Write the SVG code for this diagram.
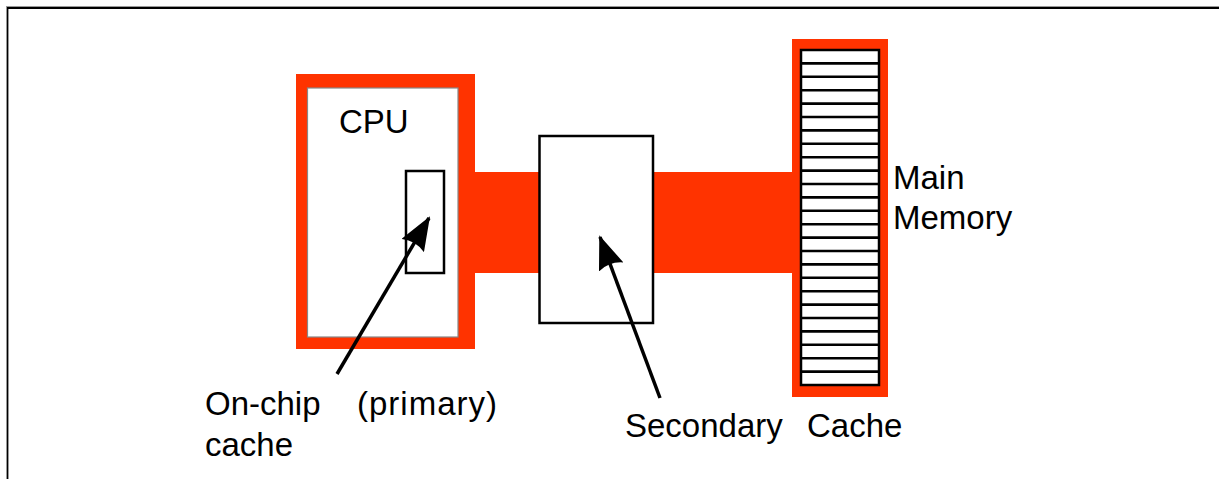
<svg xmlns="http://www.w3.org/2000/svg" width="1219" height="479" viewBox="0 0 1219 479">
<defs>
<style>
.red{fill:#ff3300}
.box{fill:#fff;stroke:#000;stroke-width:2.5}
.lbl{font-family:"Liberation Sans",Arial,sans-serif;font-size:33px;fill:#000}
.arr{stroke:#000;stroke-width:3.5;fill:none;marker-end:url(#ah)}
.row line{stroke:#000;stroke-width:2.6}
</style>
<marker id="ah" markerUnits="userSpaceOnUse" markerWidth="34" markerHeight="26" viewBox="0 0 34 26" refX="32" refY="13" orient="auto">
<path d="M0,0 L34,13 L0,26 Q6,13 0,0 Z" fill="#000"/>
</marker>
</defs>
<rect width="1219" height="479" fill="#fff"/>
<path d="M1219,8 H7.5 V479" fill="none" stroke="#000" stroke-width="1.8"/>
<path d="M1219,6.5 H6" fill="none" stroke="#999" stroke-width="1"/>

<g id="buses">
<rect class="red" x="470" y="172" width="75" height="101"/>
<rect class="red" x="650" y="172" width="146" height="101"/>
</g>

<g id="cpu">
<rect class="red" x="296" y="74" width="179" height="275"/>
<rect x="307.5" y="88" width="150.5" height="249" fill="#fff" stroke="#888" stroke-width="1.2"/>
<text class="lbl" x="339" y="133" font-size="30">CPU</text>
</g>

<g id="onchip">
<rect class="box" x="406" y="171" width="38" height="102" stroke-width="2.2"/>
</g>

<g id="secondary">
<rect class="box" x="539.5" y="136" width="113.5" height="187"/>
</g>

<g id="memory">
<rect class="red" x="792" y="39" width="96" height="358"/>
<rect class="box" x="801" y="50" width="78" height="335" stroke-width="3"/>
<g class="row">
<line x1="801" x2="879" y1="63.4" y2="63.4"/>
<line x1="801" x2="879" y1="76.8" y2="76.8"/>
<line x1="801" x2="879" y1="90.2" y2="90.2"/>
<line x1="801" x2="879" y1="103.6" y2="103.6"/>
<line x1="801" x2="879" y1="117" y2="117"/>
<line x1="801" x2="879" y1="130.4" y2="130.4"/>
<line x1="801" x2="879" y1="143.8" y2="143.8"/>
<line x1="801" x2="879" y1="157.2" y2="157.2"/>
<line x1="801" x2="879" y1="170.6" y2="170.6"/>
<line x1="801" x2="879" y1="184" y2="184"/>
<line x1="801" x2="879" y1="197.4" y2="197.4"/>
<line x1="801" x2="879" y1="210.8" y2="210.8"/>
<line x1="801" x2="879" y1="224.2" y2="224.2"/>
<line x1="801" x2="879" y1="237.6" y2="237.6"/>
<line x1="801" x2="879" y1="251" y2="251"/>
<line x1="801" x2="879" y1="264.4" y2="264.4"/>
<line x1="801" x2="879" y1="277.8" y2="277.8"/>
<line x1="801" x2="879" y1="291.2" y2="291.2"/>
<line x1="801" x2="879" y1="304.6" y2="304.6"/>
<line x1="801" x2="879" y1="318" y2="318"/>
<line x1="801" x2="879" y1="331.4" y2="331.4"/>
<line x1="801" x2="879" y1="344.8" y2="344.8"/>
<line x1="801" x2="879" y1="358.2" y2="358.2"/>
<line x1="801" x2="879" y1="371.6" y2="371.6"/>
</g>
</g>

<g id="connectors">
<line class="arr" x1="337" y1="374" x2="429" y2="218"/>
<line class="arr" x1="660" y1="398" x2="600" y2="237"/>
</g>

<g id="labels">
<text class="lbl" x="205" y="415">On-chip</text>
<text class="lbl" x="357" y="415" letter-spacing="1">(primary)</text>
<text class="lbl" x="205" y="456">cache</text>
<text class="lbl" x="625" y="437">Secondary</text>
<text class="lbl" x="807" y="437">Cache</text>
<text class="lbl" x="893" y="189">Main</text>
<text class="lbl" x="893" y="229">Memory</text>
</g>
</svg>
